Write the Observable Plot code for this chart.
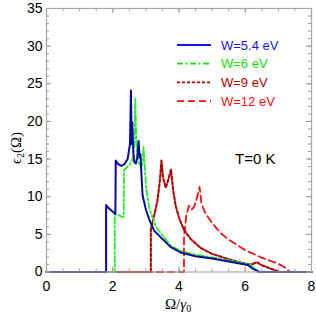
<!DOCTYPE html>
<html><head><meta charset="utf-8">
<script src="https://cdn.jsdelivr.net/npm/d3@7"></script>
<script src="https://cdn.jsdelivr.net/npm/@observablehq/plot@0.6"></script>
<style>
body{margin:0;background:#fff;}
#wrap{position:relative;width:316px;height:316px;}
#legend{position:absolute;left:0;top:0;}
</style></head>
<body><div id="wrap"></div>
<script>
const seriesNames = ["W=5.4 eV","W=6 eV","W=9 eV","W=12 eV"];
const lineColors = ["#0a0aa0","#22ee22","#b00000","#f01010"];
const legendColors = ["#1414f0","#10e010","#b00000","#f01010"];
const dashes = [null,"6,2.5,2,2.5","3,2","7,4"];
const widths = [2,1.8,2.1,1.8];

const xW54 = [0,1.80,1.80,1.85,1.95,2.08,2.09,2.15,2.25,2.35,2.45,2.52,2.55,2.57,2.59,2.62,2.65,2.70,2.75,2.78,2.81,2.84,2.86,2.90,3.0,3.1,3.25,3.45,3.75,4.05,4.5,5.0,5.5,6.0,6.1,6.2,6.42,8];
const yW54 = [0,0,8.9,8.6,8.2,7.7,14.8,14.4,14.1,14.3,15.0,17,24.1,17,19.9,16,14.6,14.4,15.5,17.4,15.2,15.6,13.5,10.2,8.3,7.0,5.5,4.6,3.3,2.6,2.1,1.8,1.4,1.0,0.9,0.5,0,0];

const xW6 = [0,2.06,2.06,2.15,2.25,2.33,2.34,2.40,2.50,2.60,2.65,2.68,2.71,2.74,2.78,2.82,2.86,2.90,2.93,2.96,3.0,3.1,3.3,3.5,3.75,4.05,4.5,5.0,5.5,6.0,6.15,6.25,6.42,8];
const yW6 = [0,0,7.7,7.6,7.4,7.3,13.5,13.8,14.2,15,17,23,17.4,15.5,14.6,14.2,13.9,14.5,16.6,14.5,11.5,8.5,6.0,4.9,3.5,2.8,2.3,1.95,1.55,1.15,1.0,0.6,0,0];

const xW9 = [0,3.15,3.15,3.25,3.35,3.42,3.47,3.52,3.6,3.68,3.76,3.82,3.9,4.0,4.15,4.35,4.65,5.0,5.5,6.0,6.2,6.35,6.5,6.8,7.05,8];
const yW9 = [0,0,5.7,7.5,9.5,12,14.8,12.5,11.2,12.3,13.6,11,8.8,7.2,5.6,4.4,3.2,2.4,1.7,1.1,1.0,1.3,0.9,0.4,0,0];

const xW12 = [0,4.15,4.15,4.22,4.3,4.38,4.45,4.52,4.58,4.62,4.68,4.8,5.0,5.25,5.5,6.0,6.5,7.0,7.2,7.35,8];
const yW12 = [0,0,4.5,7.5,8.8,8.3,8.6,9.5,10.5,11.3,9.0,7.8,6.5,5.2,4.3,2.9,1.9,1.1,0.6,0,0];

const xTickLabels = [0,2,4,6,8];
const yTickLabels = [0,5,10,15,20,25,30,35];
const xMinor = d3.range(0,8.01,0.5);
const yMinor = d3.range(0,35.01,1);

const allX = [xW54,xW6,xW9,xW12], allY = [yW54,yW6,yW9,yW12];
const order = [3,2,1,0];

const H = 316, mT = 8, mB = 44.5, mL = 46, mR = 5;
const innerH = H - mT - mB, innerW = 316 - mL - mR;

const marks = [];
for (const i of order) {
  const data = allX[i].map((x,k)=>({x, y: allY[i][k]}));
  marks.push(Plot.line(data, {x:"x", y:"y", stroke: lineColors[i], strokeWidth: widths[i], strokeDasharray: dashes[i], curve:"linear"}));
}
const tickStroke = "#999";
marks.push(
  Plot.ruleX(xMinor, {x: d=>d, stroke: tickStroke, insetTop: innerH - 3}),
  Plot.ruleX(xMinor, {x: d=>d, stroke: tickStroke, insetBottom: innerH - 3}),
  Plot.ruleX(xTickLabels, {x: d=>d, stroke: tickStroke, insetTop: innerH - 5}),
  Plot.ruleX(xTickLabels, {x: d=>d, stroke: tickStroke, insetBottom: innerH - 5}),
  Plot.ruleY(yMinor, {y: d=>d, stroke: tickStroke, insetRight: innerW - 3}),
  Plot.ruleY(yMinor, {y: d=>d, stroke: tickStroke, insetLeft: innerW - 3}),
  Plot.ruleY(yTickLabels, {y: d=>d, stroke: tickStroke, insetRight: innerW - 5}),
  Plot.ruleY(yTickLabels, {y: d=>d, stroke: tickStroke, insetLeft: innerW - 5}),
  Plot.frame({stroke:"#a8a8a8", strokeWidth:1.2}),
  Plot.axisX(xTickLabels, {tickSize:0, tickPadding:9, fontSize:14, fill:"#000", label:null}),
  Plot.axisY(yTickLabels, {tickSize:0, tickPadding:4, fontSize:14, fill:"#000", label:null}),
  Plot.text(["T=0 K"], {x: ()=>6.3, y: ()=>15, text: d=>d, fontSize:15, fill:"#000", fontFamily:"Liberation Sans, Arial, sans-serif"})
);

const chart = Plot.plot({
  width: 316, height: H,
  marginTop: mT, marginBottom: mB, marginLeft: mL, marginRight: mR,
  x: {domain:[0,8], axis:null},
  y: {domain:[0,35], axis:null},
  style: {fontFamily:"Liberation Sans, Arial, sans-serif", background:"#fff"},
  marks
});
const wrap = document.getElementById("wrap");
wrap.appendChild(chart);

const svg = d3.select(chart);
svg.append("text").attr("x", 178).attr("y", 309).attr("text-anchor","middle")
  .attr("font-family","Liberation Serif, Times New Roman, serif").attr("font-size",15)
  .html('Ω/<tspan font-style="italic">γ</tspan><tspan font-size="10" dy="3">0</tspan>');
svg.append("text").attr("transform","translate(21,148) rotate(-90)").attr("text-anchor","middle")
  .attr("font-family","Liberation Serif, Times New Roman, serif").attr("font-size",15)
  .html('ϵ<tspan font-size="10" dy="3">2</tspan><tspan dy="-3">(Ω)</tspan>');

const leg = d3.select(wrap).append("svg").attr("id","legend").attr("width",316).attr("height",316);
seriesNames.forEach((name,i)=>{
  const yy = 45 + i*18.7;
  leg.append("line").attr("x1",177).attr("x2",211).attr("y1",yy).attr("y2",yy)
    .attr("stroke",legendColors[i]).attr("stroke-width",i===0?2:1.7)
    .attr("stroke-dasharray",dashes[i]);
  leg.append("text").attr("x",221).attr("y",yy+4.5).attr("fill",legendColors[i])
    .attr("font-family","Liberation Sans, Arial, sans-serif").attr("font-size",13).text(name);
});
</script></body></html>
